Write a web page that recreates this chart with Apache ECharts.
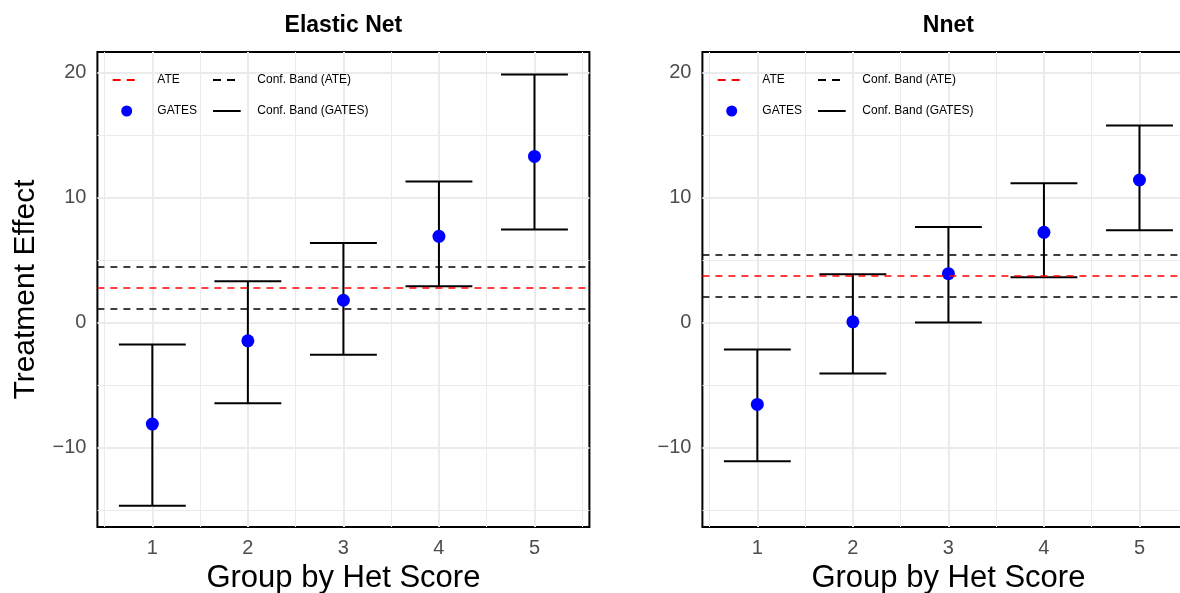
<!DOCTYPE html>
<html>
<head>
<meta charset="utf-8">
<script src="https://cdn.jsdelivr.net/npm/echarts@6/dist/echarts.min.js"></script>
<style>
html,body{margin:0;padding:0;background:#fff;overflow:hidden;width:1180px;height:593px;}
#chart{width:1200px;height:593px;}
</style>
</head>
<body>
<div id="chart"></div>
<script>
// ---------- data ----------
const groups = [1, 2, 3, 4, 5];
const xTicks = [1, 2, 3, 4, 5];
const xMinor = [0.5, 1.5, 2.5, 3.5, 4.5, 5.5];
const yTicks = [-10, 0, 10, 20];
const yMinor = [-15, -5, 5, 15];

const enEst  = [-8.14, -1.47, 1.78, 6.90, 13.30];
const enLow  = [-14.67, -6.46, -2.59, 2.90, 7.44];
const enHigh = [-1.76, 3.30, 6.37, 11.28, 19.86];
const enAte  = [2.77, 1.09, 4.48];   // ATE, lower, upper

const nnEst  = [-6.56, 0.05, 3.91, 7.22, 11.41];
const nnLow  = [-11.12, -4.08, 0.00, 3.62, 7.38];
const nnHigh = [-2.16, 3.86, 7.65, 11.14, 15.78];
const nnAte  = [3.73, 2.02, 5.44];

const titles = ['Elastic Net', 'Nnet'];
const xTitle = 'Group by Het Score';
const yTitle = 'Treatment Effect';
const legendLabels = ['ATE', 'Conf. Band (ATE)', 'GATES', 'Conf. Band (GATES)'];

// ---------- layout ----------
const FONT = "'Liberation Sans', Arial, Helvetica, sans-serif";
const gridTop = 52, gridH = 475, gridW = 492;
const gridLefts = [97.4, 702.4];
const yMin = -16.38, yMax = 21.66;
const xMin = 0.425, xMax = 5.575;
const capWidth = 0.7;

const chart = echarts.init(document.getElementById('chart'), null, {renderer: 'canvas', width: 1200, height: 593});

const grids = gridLefts.map(l => ({
  left: l, top: gridTop, width: gridW, height: gridH,
  show: true, borderColor: '#000', borderWidth: 2, backgroundColor: 'transparent', containLabel: false
}));

const xAxes = [0, 1].map(i => ({
  gridIndex: i, type: 'value', min: xMin, max: xMax,
  axisLine: {show: false}, axisTick: {show: false}, splitLine: {show: false},
  axisLabel: {customValues: xTicks, fontSize: 20, color: '#4D4D4D', margin: 11, fontFamily: FONT}
}));
const yAxes = [0, 1].map(i => ({
  gridIndex: i, type: 'value', min: yMin, max: yMax,
  axisLine: {show: false}, axisTick: {show: false}, splitLine: {show: false},
  axisLabel: {customValues: yTicks, fontSize: 20, color: '#4D4D4D', margin: 11, fontFamily: FONT,
    formatter: v => (v < 0 ? '\u2212' + Math.abs(v) : String(v))}
}));

function gridSeries(i) {
  const d = [];
  xMinor.forEach(v => d.push({xAxis: v, lineStyle: {width: 1, color: '#EBEBEB'}}));
  yMinor.forEach(v => d.push({yAxis: v, lineStyle: {width: 1, color: '#EBEBEB'}}));
  xTicks.forEach(v => d.push({xAxis: v, lineStyle: {width: 2, color: '#EBEBEB'}}));
  yTicks.forEach(v => d.push({yAxis: v, lineStyle: {width: 2, color: '#EBEBEB'}}));
  return {
    type: 'line', xAxisIndex: i, yAxisIndex: i, data: [], z: 1, silent: true,
    markLine: {z: 1, silent: true, symbol: ['none', 'none'], label: {show: false}, animation: false,
      lineStyle: {type: 'solid'}, emphasis: {disabled: true}, data: d}
  };
}

function errSeries(i, lo, hi) {
  return {
    type: 'custom', xAxisIndex: i, yAxisIndex: i, z: 3, silent: true,
    data: groups.map((g, k) => [g, lo[k], hi[k]]),
    encode: {x: 0, y: [1, 2]},
    renderItem: function (params, api) {
      const x = api.value(0), l = api.value(1), h = api.value(2);
      const pL = api.coord([x, l]), pH = api.coord([x, h]);
      const hw = api.size([capWidth, 0])[0] / 2;
      const st = {stroke: '#000', lineWidth: 2};
      return {type: 'group', children: [
        {type: 'line', shape: {x1: pL[0], y1: pL[1], x2: pH[0], y2: pH[1]}, style: st},
        {type: 'line', shape: {x1: pH[0] - hw, y1: pH[1], x2: pH[0] + hw, y2: pH[1]}, style: st},
        {type: 'line', shape: {x1: pL[0] - hw, y1: pL[1], x2: pL[0] + hw, y2: pL[1]}, style: st}
      ]};
    }
  };
}

function pointSeries(i, est) {
  return {
    type: 'scatter', xAxisIndex: i, yAxisIndex: i, z: 4, silent: true,
    symbol: 'circle', symbolSize: 13, itemStyle: {color: '#0000FF', opacity: 1},
    data: groups.map((g, k) => [g, est[k]])
  };
}

function ateSeries(i, ate) {
  return {
    type: 'line', xAxisIndex: i, yAxisIndex: i, data: [], z: 6, silent: true,
    markLine: {z: 6, silent: true, symbol: ['none', 'none'], label: {show: false}, animation: false,
      emphasis: {disabled: true},
      data: [
        {yAxis: ate[1], lineStyle: {color: '#000', width: 1.5, type: [7, 6], opacity: 1}},
        {yAxis: ate[2], lineStyle: {color: '#000', width: 1.5, type: [7, 6], opacity: 1}},
        {yAxis: ate[0], lineStyle: {color: '#FF0000', width: 1.5, type: [7, 6], opacity: 1}}
      ]}
  };
}

function legendGraphics(off) {
  const r1 = 80, r2 = 111;
  const txt = (s, x, y) => ({type: 'text', x: off + x, y: y, z: 10,
    style: {text: s, font: '12px ' + FONT, fill: '#000', align: 'left', verticalAlign: 'middle',
      textAlign: 'left', textVerticalAlign: 'middle'}});
  return [
    {type: 'line', z: 10, shape: {x1: off + 15.3, y1: r1, x2: off + 38, y2: r1},
      style: {stroke: '#FF0000', lineWidth: 2, lineDash: [8, 6]}},
    txt(legendLabels[0], 59.9, r1),
    {type: 'line', z: 10, shape: {x1: off + 115.6, y1: r1, x2: off + 138, y2: r1},
      style: {stroke: '#000', lineWidth: 2, lineDash: [8, 6]}},
    txt(legendLabels[1], 159.9, r1),
    {type: 'circle', z: 10, shape: {cx: off + 29.3, cy: r2, r: 5.5}, style: {fill: '#0000FF'}},
    txt(legendLabels[2], 59.9, r2),
    {type: 'line', z: 10, shape: {x1: off + 115.6, y1: r2, x2: off + 143.3, y2: r2},
      style: {stroke: '#000', lineWidth: 2}},
    txt(legendLabels[3], 159.9, r2)
  ];
}

const graphics = [];
gridLefts.forEach((l, i) => {
  const cx = l + gridW / 2;
  graphics.push({type: 'text', x: cx, y: 26,
    style: {text: titles[i], font: 'bold 23px ' + FONT, fill: '#000', align: 'center', verticalAlign: 'middle',
      textAlign: 'center', textVerticalAlign: 'middle'}});
  graphics.push({type: 'text', x: cx, y: 578,
    style: {text: xTitle, font: '31px ' + FONT, fill: '#000', align: 'center', verticalAlign: 'middle',
      textAlign: 'center', textVerticalAlign: 'middle'}});
  legendGraphics(l).forEach(g => graphics.push(g));
});
graphics.push({type: 'text', x: 26, y: gridTop + gridH / 2, rotation: Math.PI / 2,
  style: {text: yTitle, font: '30px ' + FONT, fill: '#000', align: 'center', verticalAlign: 'middle',
    textAlign: 'center', textVerticalAlign: 'middle'}});

chart.setOption({
  animation: false,
  backgroundColor: '#fff',
  grid: grids,
  xAxis: xAxes,
  yAxis: yAxes,
  series: [
    gridSeries(0), gridSeries(1),
    errSeries(0, enLow, enHigh), errSeries(1, nnLow, nnHigh),
    pointSeries(0, enEst), pointSeries(1, nnEst),
    ateSeries(0, enAte), ateSeries(1, nnAte)
  ],
  graphic: graphics
});
</script>
</body>
</html>
